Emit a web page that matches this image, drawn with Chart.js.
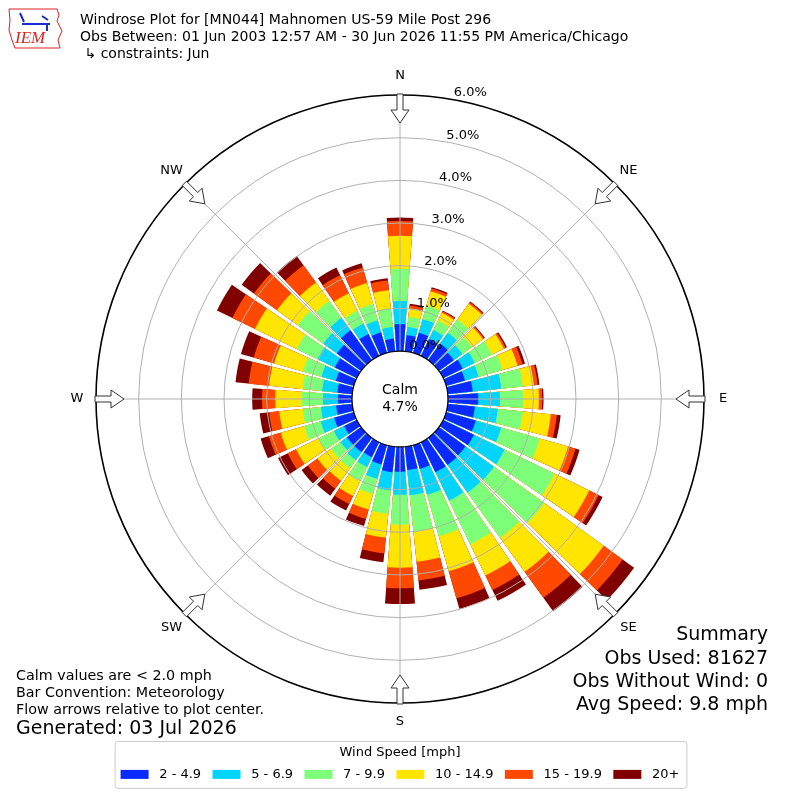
<!DOCTYPE html>
<html>
<head>
<meta charset="utf-8">
<script src="https://cdn.jsdelivr.net/npm/chart.js@4.4.1/dist/chart.umd.min.js"></script>
<style>
  html, body { margin: 0; padding: 0; background: #fff; }
  #wrap { width: 800px; height: 800px; }
</style>
</head>
<body>
<div id="wrap"><canvas id="rose" width="800" height="800"></canvas></div>
<script>
// direction bins (degrees, meteorological, clockwise from N)
const DIRECTIONS = [0, 10, 20, 30, 40, 50, 60, 70, 80, 90, 100, 110, 120, 130, 140, 150, 160, 170,
  180, 190, 200, 210, 220, 230, 240, 250, 260, 270, 280, 290, 300, 310, 320, 330, 340, 350];

const SPEED_BINS = ['2 - 4.9', '5 - 6.9', '7 - 9.9', '10 - 14.9', '15 - 19.9', '20+'];
const SPEED_COLORS = ['#0a2bff', '#00d4ff', '#7dff7a', '#ffe500', '#ff4800', '#800000'];

// frequency (% of obs) per direction for each speed class
const freq2to5 = [0.63, 0.38, 0.49, 0.44, 0.48, 0.43, 0.51, 0.46, 0.59, 0.71, 0.64, 0.72, 0.80, 0.77, 0.78, 0.78, 0.58, 0.55,
  0.58, 0.60, 0.47, 0.39, 0.41, 0.41, 0.33, 0.48, 0.38, 0.33, 0.35, 0.44, 0.57, 0.70, 0.86, 0.57, 0.50, 0.30];
const freq5to7 = [0.54, 0.19, 0.33, 0.23, 0.31, 0.25, 0.31, 0.33, 0.67, 0.51, 0.54, 0.62, 0.80, 0.82, 0.80, 0.74, 0.63, 0.59,
  0.54, 0.43, 0.35, 0.26, 0.23, 0.19, 0.27, 0.33, 0.36, 0.35, 0.36, 0.35, 0.45, 0.39, 0.36, 0.27, 0.29, 0.27];
const freq7to10 = [0.76, 0.24, 0.33, 0.25, 0.38, 0.27, 0.45, 0.58, 0.51, 0.54, 0.59, 0.94, 1.30, 1.45, 1.31, 1.14, 1.01, 0.86,
  0.70, 0.55, 0.37, 0.37, 0.24, 0.27, 0.40, 0.40, 0.43, 0.50, 0.46, 0.45, 0.54, 0.74, 0.49, 0.33, 0.40, 0.44];
const freq10to15 = [0.77, 0.20, 0.35, 0.20, 0.46, 0.32, 0.31, 0.37, 0.26, 0.37, 0.66, 0.69, 0.90, 1.72, 0.98, 0.81, 0.85, 0.71,
  1.01, 0.56, 0.38, 0.38, 0.36, 0.39, 0.58, 0.57, 0.55, 0.62, 0.79, 0.70, 1.09, 0.60, 0.53, 0.46, 0.51, 0.43];
const freq15to20 = [0.35, 0.07, 0.07, 0.04, 0.04, 0.04, 0.05, 0.12, 0.09, 0.08, 0.14, 0.18, 0.25, 0.55, 0.75, 0.38, 0.66, 0.44,
  0.48, 0.37, 0.23, 0.21, 0.23, 0.28, 0.22, 0.29, 0.24, 0.31, 0.48, 0.50, 0.59, 0.67, 0.50, 0.47, 0.38, 0.23];
const freq20plus = [0.08, 0.04, 0.03, 0.02, 0.02, 0.02, 0.03, 0.06, 0.04, 0.03, 0.09, 0.10, 0.10, 0.33, 0.39, 0.28, 0.26, 0.22,
  0.37, 0.21, 0.17, 0.17, 0.20, 0.18, 0.25, 0.20, 0.22, 0.23, 0.31, 0.31, 0.40, 0.35, 0.27, 0.20, 0.10, 0.05];

const RING_TICKS = [0, 1, 2, 3, 4, 5, 6];
const CALM_PCT = 4.7;
const COMPASS = ['N', 'NE', 'E', 'SE', 'S', 'SW', 'W', 'NW'];

const R_MIN = -1.124;   // leaves room for the calm circle
const R_MAX = 6;
const BAR_DEG = 8.4;
const GAP_DEG = 10 - BAR_DEG;
const FONT = 'DejaVu Sans';

Chart.defaults.font.family = FONT;

// stacked bars: each dataset holds the running total, smallest drawn on top
const speedSeries = [freq2to5, freq5to7, freq7to10, freq10to15, freq15to20, freq20plus];
const running = DIRECTIONS.map(() => 0);
const datasets = speedSeries.map((series, k) => {
  const data = [];
  series.forEach((v, i) => {
    running[i] += v;
    data.push(running[i]);
    data.push(R_MIN); // gap between directions
  });
  return {
    label: SPEED_BINS[k],
    data: data,
    backgroundColor: (c) => (c.dataIndex % 2 ? 'rgba(0,0,0,0)' : SPEED_COLORS[k]),
    borderWidth: 0,
    angle: (c) => (c.dataIndex % 2 ? GAP_DEG : BAR_DEG)
  };
});
const labels = [];
DIRECTIONS.forEach(d => { labels.push(d + '°'); labels.push(''); });

function polar(cx, cy, r, deg) {
  const a = deg * Math.PI / 180;
  return [cx + r * Math.sin(a), cy - r * Math.cos(a)];
}

function drawArrow(ctx, cx, cy, rTail, deg) {
  // outlined arrow pointing towards the centre
  const a = deg * Math.PI / 180;
  const ux = -Math.sin(a), uy = Math.cos(a);   // inward
  const px = Math.cos(a), py = Math.sin(a);    // lateral
  const [tx, ty] = polar(cx, cy, rTail, deg);
  const pts = [[0, -3], [16, -3], [16, -9], [29, 0], [16, 9], [16, 3], [0, 3]];
  ctx.beginPath();
  pts.forEach(([t, s], i) => {
    const x = tx + ux * t + px * s, y = ty + uy * t + py * s;
    if (i === 0) ctx.moveTo(x, y); else ctx.lineTo(x, y);
  });
  ctx.closePath();
  ctx.fillStyle = '#fff';
  ctx.fill();
  ctx.strokeStyle = '#333';
  ctx.lineWidth = 1;
  ctx.stroke();
}

const roseDecor = {
  id: 'roseDecor',
  beforeDraw(chart) {
    const ctx = chart.ctx;
    ctx.save();
    ctx.fillStyle = '#fff';
    ctx.fillRect(0, 0, chart.width, chart.height);
    ctx.restore();
  },
  afterDatasetsDraw(chart) {
    const ctx = chart.ctx;
    const s = chart.scales.r;
    const cx = s.xCenter, cy = s.yCenter;
    const rCalm = s.getDistanceFromCenterForValue(0);
    const rOut = s.getDistanceFromCenterForValue(R_MAX);
    ctx.save();
    // spokes every 45 degrees
    ctx.strokeStyle = '#b0b0b0';
    ctx.lineWidth = 1;
    for (let d = 0; d < 360; d += 45) {
      const [x0, y0] = polar(cx, cy, rCalm, d);
      const [x1, y1] = polar(cx, cy, rOut, d);
      ctx.beginPath();
      ctx.moveTo(x0, y0);
      ctx.lineTo(x1, y1);
      ctx.stroke();
    }
    // calm circle
    ctx.beginPath();
    ctx.arc(cx, cy, rCalm, 0, Math.PI * 2);
    ctx.fillStyle = '#fff';
    ctx.fill();
    ctx.restore();
  },
  afterDraw(chart) {
    const ctx = chart.ctx;
    const s = chart.scales.r;
    const cx = s.xCenter, cy = s.yCenter;
    const rOut = s.getDistanceFromCenterForValue(R_MAX);
    ctx.save();
    ctx.fillStyle = '#000';
    ctx.textBaseline = 'middle';

    // calm text
    ctx.font = '14px ' + FONT;
    ctx.textAlign = 'center';
    ctx.fillText('Calm', cx, cy - 9);
    ctx.fillText(CALM_PCT.toFixed(1) + '%', cx, cy + 8);

    // ring labels
    ctx.font = '13px ' + FONT;
    ctx.textAlign = 'center';
    RING_TICKS.forEach(v => {
      const r = s.getDistanceFromCenterForValue(v);
      const [x, y] = polar(cx, cy, r, 10);
      ctx.fillText(v.toFixed(1) + '%', x + 17.5, y - 6.5);
    });

    // compass arrows and labels
    COMPASS.forEach((name, i) => {
      const deg = i * 45;
      drawArrow(ctx, cx, cy, rOut + 1, deg);
      const [x, y] = polar(cx, cy, rOut + 19, deg);
      ctx.fillStyle = '#000';
      ctx.font = '13px ' + FONT;
      ctx.textAlign = 'center';
      ctx.fillText(name, x, y);
    });

    // header
    ctx.textAlign = 'left';
    ctx.font = '14px ' + FONT;
    ctx.fillText('Windrose Plot for [MN044] Mahnomen US-59 Mile Post 296', 80, 20);
    ctx.fillText('Obs Between: 01 Jun 2003 12:57 AM - 30 Jun 2026 11:55 PM America/Chicago', 80, 37);
    ctx.fillText(' \u21b3 constraints: Jun', 80, 54);

    // logo
    ctx.strokeStyle = '#d22';
    ctx.lineWidth = 1;
    ctx.beginPath();
    [[9, 9], [57, 9], [59, 15], [57, 21], [62, 31], [58, 40], [60, 48], [15, 48], [12, 40], [9, 30], [10, 20]]
      .forEach(([x, y], i) => (i ? ctx.lineTo(x, y) : ctx.moveTo(x, y)));
    ctx.closePath();
    ctx.stroke();
    ctx.strokeStyle = '#1a2bd0';
    ctx.lineWidth = 2;
    ctx.beginPath();
    ctx.moveTo(22, 24); ctx.lineTo(50, 24);
    ctx.moveTo(20, 13); ctx.lineTo(24, 22);
    ctx.moveTo(42, 16); ctx.lineTo(48, 20);
    ctx.moveTo(47, 24); ctx.lineTo(47, 31);
    ctx.stroke();
    ctx.fillStyle = '#d22';
    ctx.font = 'italic 17px "Liberation Serif"';
    ctx.fillText('IEM', 15, 39);

    // footer notes
    ctx.fillStyle = '#000';
    ctx.font = '14.3px ' + FONT;
    ctx.fillText('Calm values are < 2.0 mph', 16, 676);
    ctx.fillText('Bar Convention: Meteorology', 16, 693);
    ctx.fillText('Flow arrows relative to plot center.', 16, 710);
    ctx.font = '19px ' + FONT;
    ctx.fillText('Generated: 03 Jul 2026', 16, 729);

    ctx.textAlign = 'right';
    ctx.font = '19px ' + FONT;
    ctx.fillText('Summary', 768, 635);
    ctx.fillText('Obs Used: 81627', 768, 659);
    ctx.fillText('Obs Without Wind: 0', 768, 682);
    ctx.fillText('Avg Speed: 9.8 mph', 768, 705);

    // legend frame
    const lg = chart.legend;
    if (lg && lg.legendHitBoxes.length) {
      const hb = lg.legendHitBoxes;
      const left = Math.min(...hb.map(h => h.left)) - 6;
      const right = Math.max(...hb.map(h => h.left + h.width)) + 7;
      const top = lg.top + 38;
      const bottom = hb[0].top + hb[0].height + 7;
      ctx.strokeStyle = '#cccccc';
      ctx.lineWidth = 1;
      ctx.beginPath();
      ctx.roundRect(left + 0.5, top + 0.5, right - left, bottom - top, 3);
      ctx.stroke();
    }
    ctx.restore();
  }
};

new Chart(document.getElementById('rose'), {
  type: 'polarArea',
  data: { labels: labels, datasets: datasets },
  options: {
    responsive: false,
    animation: false,
    events: [],
    layout: { padding: { top: 95, left: 96, right: 96, bottom: 9.1 } },
    scales: {
      r: {
        min: R_MIN,
        max: R_MAX,
        startAngle: -BAR_DEG / 2,
        afterBuildTicks: (scale) => { scale.ticks = RING_TICKS.map(v => ({ value: v })); },
        ticks: { display: false },
        angleLines: { display: false },
        pointLabels: { display: false },
        grid: {
          z: 1,
          circular: true,
          color: (c) => (c.tick && (c.tick.value === 0 || c.tick.value === R_MAX) ? '#000' : '#b0b0b0'),
          lineWidth: (c) => (c.tick && c.tick.value === R_MAX ? 1.6 : (c.tick && c.tick.value === 0 ? 1.2 : 1))
        }
      }
    },
    plugins: {
      tooltip: { enabled: false },
      legend: {
        position: 'bottom',
        onClick: null,
        title: {
          display: true,
          text: 'Wind Speed [mph]',
          color: '#000',
          padding: { top: 43.5, bottom: 0 },
          font: { size: 13, lineHeight: 10 / 13, family: FONT }
        },
        labels: {
          boxWidth: 28,
          boxHeight: 9,
          padding: 11.4,
          color: '#000',
          font: { size: 13, family: FONT },
          generateLabels: (chart) => chart.data.datasets.map((ds, i) => ({
            text: ' ' + ds.label,
            fillStyle: SPEED_COLORS[i],
            strokeStyle: SPEED_COLORS[i],
            lineWidth: 0,
            hidden: false,
            datasetIndex: i
          }))
        }
      }
    }
  },
  plugins: [roseDecor]
});
</script>
</body>
</html>
